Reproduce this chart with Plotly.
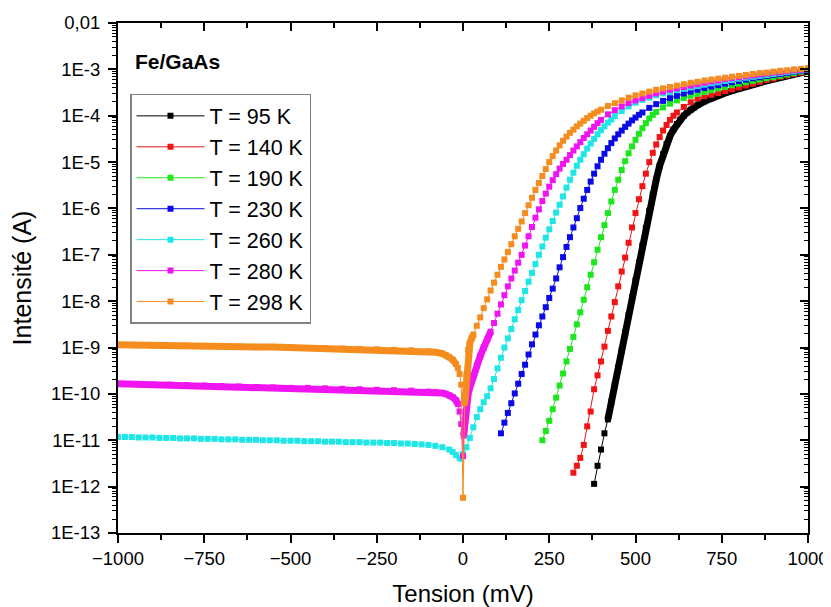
import plotly.graph_objects as go

FONT = "Liberation Sans, Arial, sans-serif"

# ---------------- data ----------------
LABELS = ["T = 95 K", "T = 140 K", "T = 190 K", "T = 230 K", "T = 260 K", "T = 280 K", "T = 298 K"]

# Tension (mV) and log10 of Intensité (A)
V_95 = [380, 390, 400, 410, 420, 430, 440, 450, 460, 470, 480, 490, 500, 510, 520, 530, 540, 550,
        560, 570, 580, 590, 600, 610, 620, 630, 640, 650, 660, 670, 680, 700, 720, 740, 760, 780,
        800, 820, 840, 860, 880, 900, 920, 940, 960, 980, 1000]
LOGI_95 = [-11.94, -11.55, -11.2, -10.85, -10.55, -10.17, -9.8, -9.43, -9.06, -8.68, -8.3, -7.92,
           -7.55, -7.17, -6.8, -6.42, -6.05, -5.7, -5.38, -5.08, -4.83, -4.61, -4.44, -4.3, -4.18,
           -4.08, -4.0, -3.93, -3.87, -3.82, -3.77, -3.69, -3.62, -3.56, -3.51, -3.46, -3.41, -3.37,
           -3.33, -3.29, -3.25, -3.21, -3.17, -3.14, -3.1, -3.07, -3.04]

V_140 = [320, 330, 340, 350, 360, 370, 380, 390, 400, 410, 420, 430, 440, 450, 460, 470, 480, 490,
         500, 510, 520, 530, 540, 550, 560, 570, 580, 590, 600, 610, 620, 640, 660, 680, 700, 720,
         740, 760, 780, 800, 820, 840, 860, 880, 900, 920, 940, 960, 980, 1000]
LOGI_140 = [-11.7, -11.55, -11.38, -11.1, -10.7, -10.38, -9.9, -9.6, -9.3, -8.98, -8.64, -8.33,
            -8.02, -7.68, -7.36, -7.06, -6.74, -6.41, -6.1, -5.8, -5.52, -5.25, -5.0, -4.8, -4.62,
            -4.46, -4.32, -4.2, -4.09, -4.0, -3.93, -3.81, -3.71, -3.63, -3.58, -3.55, -3.51, -3.47,
            -3.43, -3.39, -3.35, -3.31, -3.27, -3.23, -3.2, -3.16, -3.13, -3.1, -3.07, -3.03]

V_190 = [230, 240, 250, 260, 270, 280, 290, 300, 310, 320, 330, 340, 350, 360, 370, 380, 390, 400,
         410, 420, 430, 440, 450, 460, 470, 480, 490, 500, 510, 520, 530, 540, 550, 560, 580, 600,
         620, 640, 660, 680, 700, 720, 740, 760, 780, 800, 820, 840, 860, 880, 900, 920, 940, 960,
         980, 1000]
LOGI_190 = [-11.0, -10.8, -10.58, -10.33, -10.08, -9.82, -9.56, -9.3, -9.03, -8.77, -8.5, -8.24,
            -7.97, -7.7, -7.43, -7.16, -6.89, -6.62, -6.36, -6.1, -5.85, -5.6, -5.38, -5.17, -4.98,
            -4.81, -4.66, -4.52, -4.39, -4.27, -4.16, -4.06, -3.98, -3.92, -3.82, -3.74, -3.67,
            -3.62, -3.57, -3.53, -3.49, -3.45, -3.41, -3.38, -3.34, -3.31, -3.28, -3.25, -3.22,
            -3.19, -3.17, -3.14, -3.11, -3.08, -3.05, -3.02]

V_230 = [110, 120, 130, 140, 150, 160, 170, 180, 190, 200, 210, 220, 230, 240, 250, 260, 270, 280,
         290, 300, 310, 320, 330, 340, 350, 360, 370, 380, 390, 400, 410, 420, 430, 440, 450, 460,
         470, 480, 490, 500, 510, 520, 540, 560, 580, 600, 620, 640, 660, 680, 700, 720, 740, 760,
         780, 800, 820, 840, 860, 880, 900, 920, 940, 960, 980, 1000]
LOGI_230 = [-10.85, -10.62, -10.41, -10.2, -9.99, -9.78, -9.57, -9.37, -9.15, -8.93, -8.72, -8.52,
            -8.33, -8.13, -7.93, -7.73, -7.51, -7.27, -7.05, -6.83, -6.62, -6.41, -6.21, -5.99,
            -5.79, -5.6, -5.42, -5.25, -5.09, -4.95, -4.82, -4.7, -4.59, -4.49, -4.4, -4.32, -4.24,
            -4.17, -4.1, -4.04, -3.98, -3.93, -3.83, -3.75, -3.68, -3.62, -3.57, -3.52, -3.48,
            -3.44, -3.4, -3.37, -3.34, -3.31, -3.28, -3.25, -3.22, -3.19, -3.17, -3.14, -3.12,
            -3.1, -3.08, -3.05, -3.03, -3.01]

V_260 = [-1000, -980, -960, -940, -920, -900, -880, -860, -840, -820, -800, -780, -760, -740, -720,
         -700, -680, -660, -640, -620, -600, -580, -560, -540, -520, -500, -480, -460, -440, -420,
         -400, -380, -360, -340, -320, -300, -280, -260, -240, -220, -200, -180, -160, -140, -120,
         -100, -80, -60, -40, -30, -20, -10, -5, 0, 10, 20, 30, 40, 50, 60, 70, 80, 90, 100, 110,
         120, 130, 140, 150, 160, 170, 180, 190, 200, 210, 220, 230, 240, 250, 260, 270, 280, 290,
         300, 310, 320, 330, 340, 350, 360, 370, 380, 390, 400, 410, 420, 430, 440, 460, 480, 500,
         520, 540, 560, 580, 600, 620, 640, 660, 680, 700, 720, 740, 760, 780, 800, 820, 840, 860,
         880, 900, 920, 940, 960, 980, 1000]
LOGI_260 = [-10.93, -10.93, -10.93, -10.94, -10.94, -10.94, -10.95, -10.95, -10.95, -10.96, -10.96,
            -10.96, -10.97, -10.97, -10.97, -10.98, -10.98, -10.98, -10.99, -10.99, -10.99, -11.0,
            -11.0, -11.0, -11.01, -11.01, -11.01, -11.02, -11.02, -11.02, -11.03, -11.03, -11.03,
            -11.04, -11.04, -11.04, -11.05, -11.05, -11.05, -11.06, -11.06, -11.07, -11.07, -11.08,
            -11.09, -11.1, -11.12, -11.15, -11.2, -11.25, -11.32, -11.38, -11.4, -11.3, -11.15,
            -10.95, -10.72, -10.5, -10.33, -10.18, -10.05, -9.88, -9.68, -9.45, -9.22, -9.0, -8.8,
            -8.6, -8.39, -8.19, -7.98, -7.78, -7.58, -7.39, -7.2, -7.0, -6.82, -6.63, -6.45, -6.27,
            -6.09, -5.92, -5.74, -5.55, -5.38, -5.23, -5.08, -4.95, -4.83, -4.71, -4.6, -4.5, -4.4,
            -4.31, -4.23, -4.15, -4.08, -4.01, -3.9, -3.8, -3.72, -3.66, -3.61, -3.56, -3.52, -3.49,
            -3.45, -3.42, -3.39, -3.36, -3.33, -3.3, -3.28, -3.25, -3.23, -3.2, -3.18, -3.16, -3.14,
            -3.12, -3.1, -3.08, -3.06, -3.04, -3.02, -3.0]

V_280 = [-1000, -950, -900, -850, -800, -750, -700, -650, -600, -550, -500, -450, -400, -350, -300,
         -250, -200, -150, -100, -80, -60, -50, -40, -30, -20, -15, -10, -5, 0, 2, 5, 10, 15, 20,
         30, 40, 50, 60, 70, 80, 90, 100, 110, 120, 130, 140, 150, 160, 170, 180, 190, 200, 210,
         220, 230, 240, 250, 260, 270, 280, 290, 300, 310, 320, 330, 340, 350, 360, 370, 380, 390,
         400, 420, 440, 460, 480, 500, 520, 540, 560, 580, 600, 620, 640, 660, 680, 700, 720, 740,
         760, 780, 800, 820, 840, 860, 880, 900, 920, 940, 960, 980, 1000]
LOGI_280 = [-9.78, -9.79, -9.8, -9.8, -9.81, -9.82, -9.83, -9.84, -9.85, -9.86, -9.87, -9.87, -9.88,
            -9.89, -9.9, -9.91, -9.92, -9.93, -9.95, -9.96, -9.98, -10.0, -10.03, -10.07, -10.14,
            -10.22, -10.38, -10.65, -11.34, -10.9, -10.6, -10.2, -10.0, -9.86, -9.6, -9.38, -9.18,
            -9.0, -8.83, -8.66, -8.47, -8.27, -8.07, -7.87, -7.68, -7.51, -7.34, -7.17, -7.0, -6.8,
            -6.6, -6.4, -6.2, -6.02, -5.84, -5.68, -5.53, -5.39, -5.26, -5.14, -5.04, -4.95, -4.85,
            -4.75, -4.66, -4.57, -4.48, -4.4, -4.32, -4.24, -4.16, -4.09, -3.97, -3.88, -3.8, -3.73,
            -3.67, -3.62, -3.57, -3.52, -3.48, -3.44, -3.41, -3.38, -3.35, -3.32, -3.29, -3.26,
            -3.24, -3.21, -3.19, -3.17, -3.15, -3.13, -3.11, -3.09, -3.07, -3.06, -3.04, -3.02,
            -3.01, -2.99]

V_298 = [-1000, -950, -900, -850, -800, -750, -700, -650, -600, -550, -500, -450, -400, -350, -300,
         -250, -200, -150, -100, -80, -60, -50, -40, -30, -20, -15, -10, -5, 0, 5, 10, 15, 20, 25,
         30, 40, 50, 60, 70, 80, 90, 100, 110, 120, 130, 140, 150, 160, 170, 180, 190, 200, 210,
         220, 230, 240, 250, 260, 270, 280, 290, 300, 310, 320, 330, 340, 350, 360, 370, 380, 390,
         400, 420, 440, 460, 480, 500, 520, 540, 560, 580, 600, 620, 640, 660, 680, 700, 720, 740,
         760, 780, 800, 820, 840, 860, 880, 900, 920, 940, 960, 980, 1000]
LOGI_298 = [-8.94, -8.95, -8.95, -8.96, -8.96, -8.97, -8.97, -8.98, -8.99, -8.99, -9.0, -9.01, -9.01,
            -9.02, -9.03, -9.04, -9.05, -9.06, -9.08, -9.1, -9.13, -9.16, -9.2, -9.26, -9.36, -9.44,
            -9.57, -9.8, -12.24, -10.2, -9.6, -9.05, -8.9, -8.8, -8.72, -8.53, -8.35, -8.15, -7.96,
            -7.77, -7.6, -7.43, -7.26, -7.1, -6.94, -6.77, -6.6, -6.44, -6.28, -6.1, -5.93, -5.77,
            -5.6, -5.45, -5.3, -5.15, -5.0, -4.87, -4.75, -4.64, -4.54, -4.45, -4.37, -4.3, -4.23,
            -4.17, -4.11, -4.05, -4.0, -3.95, -3.91, -3.87, -3.79, -3.73, -3.67, -3.61, -3.56, -3.52,
            -3.48, -3.44, -3.41, -3.38, -3.35, -3.32, -3.29, -3.27, -3.24, -3.22, -3.2, -3.18,
            -3.16, -3.14, -3.12, -3.1, -3.08, -3.07, -3.05, -3.03, -3.02, -3.0, -2.99, -2.97]

SERIES_V = [V_95, V_140, V_190, V_230, V_260, V_280, V_298]
SERIES_LOGI = [LOGI_95, LOGI_140, LOGI_190, LOGI_230, LOGI_260, LOGI_280, LOGI_298]

X_TICKS = [-1000, -750, -500, -250, 0, 250, 500, 750, 1000]
Y_TICKVALS = [1e-13, 1e-12, 1e-11, 1e-10, 1e-9, 1e-8, 1e-7, 1e-6, 1e-5, 1e-4, 1e-3, 1e-2]
Y_TICKTEXT = ["1E-13", "1E-12", "1E-11", "1E-10", "1E-9", "1E-8", "1E-7", "1E-6", "1E-5",
              "1E-4", "1E-3", "0,01"]

# minor tick positions (axis decoration)
X_MINOR = [(X_TICKS[k] + X_TICKS[k + 1]) / 2 for k in range(len(X_TICKS) - 1)]
Y_MINOR = [m * d for d in Y_TICKVALS[:-1] for m in range(2, 10)]

# ---------------- styling ----------------
COLORS = ["#000000", "#f01414", "#1ee61e", "#0a0ae6", "#1ee6e6", "#f014f0", "#f58c1e"]
# voltage windows where the measured points are so dense they merge into a thick band
DENSE = [[(420, 1000)], [], [], [], [], [(-1000, -15), (2, 80)], [(-1000, -20), (5, 30)]]

fig = go.Figure()
for i in range(len(LABELS)):
    v = SERIES_V[i]
    cur = [10 ** li for li in SERIES_LOGI[i]]
    fig.add_trace(go.Scatter(
        x=v, y=cur, mode="lines+markers", name=LABELS[i],
        line=dict(color=COLORS[i], width=1),
        marker=dict(symbol="square", size=6, color=COLORS[i], line=dict(width=0)),
    ))
    for (a, b) in DENSE[i]:
        idx = [k for k in range(len(v)) if a <= v[k] <= b]
        fig.add_trace(go.Scatter(
            x=[v[k] for k in idx], y=[cur[k] for k in idx], mode="lines",
            line=dict(color=COLORS[i], width=7), showlegend=False, hoverinfo="skip",
        ))

# invisible helper traces that carry the mirrored top / right axes
fig.add_trace(go.Scatter(x=[X_TICKS[0]], y=[Y_TICKVALS[0]], xaxis="x2", yaxis="y",
                         mode="markers", marker=dict(size=1, opacity=0),
                         showlegend=False, hoverinfo="skip"))
fig.add_trace(go.Scatter(x=[X_TICKS[0]], y=[Y_TICKVALS[0]], xaxis="x", yaxis="y2",
                         mode="markers", marker=dict(size=1, opacity=0),
                         showlegend=False, hoverinfo="skip"))

axis_common = dict(showgrid=False, zeroline=False, linecolor="black", linewidth=2,
                   tickcolor="black", tickwidth=1.5, color="black", automargin=False)

# the page adds an 8 px body margin, so the figure is 8 px smaller than the window
fig.update_layout(
    width=823, height=599,
    margin=dict(l=110, r=23, t=15, b=74),
    paper_bgcolor="white", plot_bgcolor="white",
    font=dict(family=FONT, color="black"),
    xaxis=dict(
        range=[-1000, 1000], tickmode="array", tickvals=X_TICKS,
        ticks="outside", ticklen=8, showline=True, mirror=True,
        tickfont=dict(size=18.5, family=FONT),
        minor=dict(tickmode="array", tickvals=X_MINOR, ticks="outside", ticklen=5,
                   tickwidth=1.5, tickcolor="black"),
        title=dict(text="Tension (mV)", font=dict(size=24, family=FONT), standoff=18),
        **axis_common,
    ),
    yaxis=dict(
        type="log", range=[-13, -2], tickmode="array", tickvals=Y_TICKVALS, ticktext=Y_TICKTEXT,
        ticks="outside", ticklen=8, showline=True, mirror=True, ticklabelstandoff=4,
        tickfont=dict(size=18.5, family=FONT),
        minor=dict(tickmode="array", tickvals=Y_MINOR, ticks="outside", ticklen=4,
                   tickwidth=1, tickcolor="black"),
        title=dict(text="Intensité (A)", font=dict(size=25, family=FONT), standoff=12),
        **axis_common,
    ),
    xaxis2=dict(
        overlaying="x", side="top", range=[-1000, 1000], tickmode="array",
        tickvals=X_TICKS, ticks="inside", ticklen=8, showticklabels=False, showline=False,
        minor=dict(tickmode="array", tickvals=X_MINOR, ticks="inside", ticklen=5,
                   tickwidth=1.5, tickcolor="black"),
        showgrid=False, zeroline=False, tickcolor="black", tickwidth=1.5, automargin=False,
    ),
    yaxis2=dict(
        overlaying="y", side="right", type="log", range=[-13, -2],
        tickmode="array", tickvals=Y_TICKVALS, ticks="inside", ticklen=8,
        showticklabels=False, showline=False,
        minor=dict(tickmode="array", tickvals=Y_MINOR, ticks="inside", ticklen=4,
                   tickwidth=1, tickcolor="black"),
        showgrid=False, zeroline=False, tickcolor="black", tickwidth=1.5, automargin=False,
    ),
    legend=dict(
        x=0.0174, y=0.861, xanchor="left", yanchor="top",
        bgcolor="white", bordercolor="#808080", borderwidth=1.5,
        font=dict(size=21.5, family=FONT, color="black"),
        itemwidth=68, tracegroupgap=0,
    ),
    annotations=[dict(
        text="<b>Fe/GaAs</b>", xref="paper", yref="paper", x=0.0217, y=0.925,
        xanchor="left", yanchor="middle", showarrow=False,
        font=dict(size=21, family=FONT, color="black"),
    )],
    showlegend=True,
)

fig.write_html("out.html")
